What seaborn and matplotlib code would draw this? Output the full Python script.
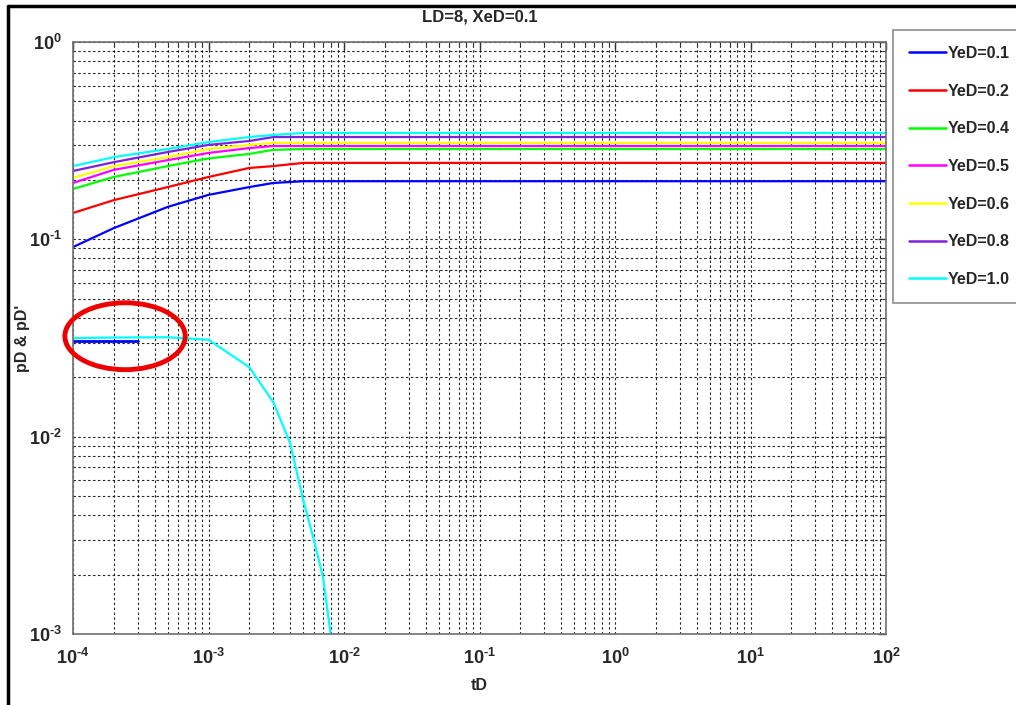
import numpy as np
import pandas as pd
import matplotlib
matplotlib.use("Agg")
import matplotlib.pyplot as plt
import seaborn as sns
from matplotlib.patches import Ellipse
from matplotlib.lines import Line2D
from matplotlib.ticker import FixedLocator, FixedFormatter, NullFormatter

# ---------------- data ----------------
tD = [1e-4, 2e-4, 5e-4, 1e-3, 2e-3, 3e-3, 5e-3, 1e-2, 1e-1, 1.0, 10.0, 100.0]
yed_01 = [0.0914, 0.114, 0.146, 0.168, 0.184, 0.193, 0.197, 0.197, 0.197, 0.197, 0.197, 0.197]
yed_02 = [0.136, 0.158, 0.184, 0.207, 0.230, 0.235, 0.244, 0.244, 0.244, 0.244, 0.244, 0.244]
yed_04 = [0.180, 0.207, 0.235, 0.257, 0.271, 0.284, 0.287, 0.287, 0.287, 0.287, 0.287, 0.287]
yed_05 = [0.193, 0.225, 0.252, 0.274, 0.290, 0.297, 0.297, 0.297, 0.297, 0.297, 0.297, 0.297]
yed_06 = [0.205, 0.235, 0.261, 0.287, 0.301, 0.308, 0.308, 0.308, 0.308, 0.308, 0.308, 0.308]
yed_08 = [0.222, 0.246, 0.277, 0.301, 0.315, 0.330, 0.330, 0.330, 0.330, 0.330, 0.330, 0.330]
yed_10 = [0.235, 0.261, 0.287, 0.311, 0.330, 0.338, 0.346, 0.346, 0.346, 0.346, 0.346, 0.346]

labels = ["YeD=0.1", "YeD=0.2", "YeD=0.4", "YeD=0.5", "YeD=0.6", "YeD=0.8", "YeD=1.0"]
colors = ["#0000FF", "#FF0000", "#00FF00", "#FF00FF", "#FFFF00", "#7F1FE0", "#00FFFF"]

# derivative curves (pD')
tD_der_blue = [1e-4, 2e-4, 3e-4]
der_blue = [0.0307, 0.0307, 0.0307]
tD_der_cyan = [1e-4, 2e-4, 5e-4, 1e-3, 2e-3, 3e-3, 4e-3, 5e-3, 6e-3, 7e-3, 8e-3, 9e-3]
der_cyan = [0.0316, 0.0318, 0.0319, 0.0310, 0.0225, 0.0150, 0.0093, 0.00477, 0.00299, 0.00194, 0.00098, 0.0004]

# axis ticks
x_exps = [-4, -3, -2, -1, 0, 1, 2]
y_exps = [-3, -2, -1, 0]

series = [yed_01, yed_02, yed_04, yed_05, yed_06, yed_08, yed_10]
df = pd.concat([pd.DataFrame({"tD": tD, "pD": s, "series": lab}) for s, lab in zip(series, labels)],
               ignore_index=True)
df_db = pd.DataFrame({"tD": tD_der_blue, "pD": der_blue})
df_dc = pd.DataFrame({"tD": tD_der_cyan, "pD": der_cyan})

# ---------------- style ----------------
sns.set_style("white")
plt.rcParams["font.family"] = ["Liberation Sans", "DejaVu Sans"]
plt.rcParams["mathtext.fontset"] = "custom"
plt.rcParams["mathtext.rm"] = "Liberation Sans:bold"
plt.rcParams["mathtext.bf"] = "Liberation Sans:bold"
plt.rcParams["mathtext.it"] = "Liberation Sans:bold"

fig = plt.figure(figsize=(10.16, 7.05), dpi=100)
ax = fig.add_axes([73 / 1016, 71 / 705, 813 / 1016, 592 / 705])
ax.set_xscale("log")
ax.set_yscale("log")

sns.lineplot(data=df_db, x="tD", y="pD", color=colors[0], lw=2.0, ax=ax,
             estimator=None, sort=False, legend=False)
sns.lineplot(data=df, x="tD", y="pD", hue="series", hue_order=labels,
             palette=dict(zip(labels, colors)), lw=1.6, ax=ax,
             estimator=None, sort=False)
sns.lineplot(data=df_dc, x="tD", y="pD", color=colors[-1], lw=1.6, ax=ax,
             estimator=None, sort=False, legend=False)

ax.set_xlim(1e-4, 1e2)
ax.set_ylim(1e-3, 1e0)


def lab(e):
    s = str(e).replace("-", r"\text{-}")
    return r"$10^{%s}$" % s


ax.xaxis.set_major_locator(FixedLocator([10.0 ** e for e in x_exps]))
ax.xaxis.set_major_formatter(FixedFormatter([lab(e) for e in x_exps]))
ax.yaxis.set_major_locator(FixedLocator([10.0 ** e for e in y_exps]))
ax.yaxis.set_major_formatter(FixedFormatter([lab(e) for e in y_exps]))
ax.xaxis.set_minor_locator(FixedLocator([m * 10.0 ** e for e in x_exps[:-1] for m in range(2, 10)]))
ax.yaxis.set_minor_locator(FixedLocator([m * 10.0 ** e for e in y_exps[:-1] for m in range(2, 10)]))
ax.xaxis.set_minor_formatter(NullFormatter())
ax.yaxis.set_minor_formatter(NullFormatter())

ax.grid(True, which="both", linestyle=(0, (2.2, 2.2)), color="black", linewidth=0.8, alpha=0.85)
ax.set_axisbelow(True)
ax.tick_params(which="both", direction="in", top=True, right=True, color="#333333")
ax.tick_params(which="major", length=6, width=1, labelsize=13, pad=8)
ax.tick_params(axis="x", which="major", pad=10)
ax.tick_params(which="minor", length=3, width=0.8)
for sp in ax.spines.values():
    sp.set_color("#707070")
    sp.set_linewidth(1.2)

ax.set_xlabel("tD", fontsize=11.5, fontweight="bold")
ax.set_ylabel("pD & pD'", fontsize=11.5, fontweight="bold")
ax.xaxis.set_label_coords(0.5, (634 - 678) / 592)
ax.yaxis.set_label_coords((30 - 73) / 813, 0.5)
fig.text(0.5 * (73 + 886) / 1016, 1 - 17 / 705, "LD=8, XeD=0.1", ha="center", va="center",
         fontsize=12, fontweight="bold")

leg = ax.legend(loc="upper left", bbox_to_anchor=(893 / 1016, 1 - 30 / 705),
                bbox_transform=fig.transFigure,
                prop={"weight": "bold", "size": 11.5}, handlelength=2.3,
                labelspacing=1.42, borderpad=1.0, handletextpad=0.1,
                frameon=True, fancybox=False, borderaxespad=0)
leg.get_frame().set_edgecolor("#707070")
leg.get_frame().set_linewidth(1.2)
for h in leg.get_lines():
    h.set_linewidth(1.8)

# red ellipse annotation
ell = Ellipse((0.064, 0.503), 0.148, 0.113, transform=ax.transAxes, fill=False,
              edgecolor="#EE0000", linewidth=3.5, clip_on=False, zorder=10)
ax.add_patch(ell)

# figure frame (top and left edges visible)
fig.add_artist(Line2D([8 / 1016, 8 / 1016], [0, 1 - 6 / 705], transform=fig.transFigure,
                      color="black", lw=2.5))
fig.add_artist(Line2D([8 / 1016, 1], [1 - 6 / 705, 1 - 6 / 705], transform=fig.transFigure,
                      color="black", lw=2.5))

fig.savefig("out.png", dpi=100)
